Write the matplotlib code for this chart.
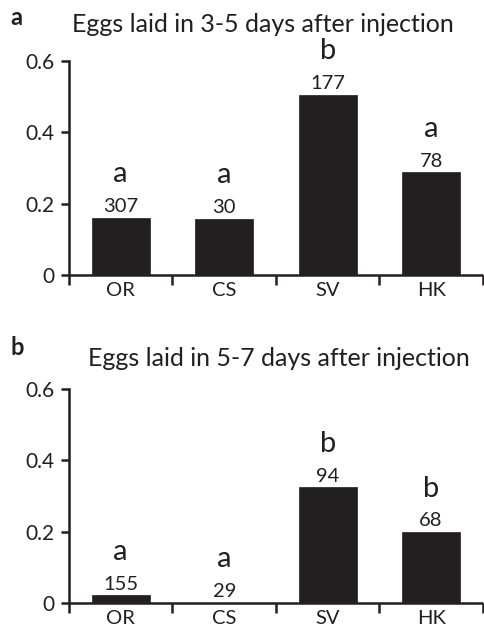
import matplotlib.pyplot as plt
import numpy as np

# ---------------- data ----------------
strains = ["OR", "CS", "SV", "HK"]

# panel a: eggs laid 3-5 days after injection
values_a = [0.161, 0.158, 0.505, 0.288]
counts_a = ["307", "30", "177", "78"]
letters_a = ["a", "a", "b", "a"]

# panel b: eggs laid 5-7 days after injection
values_b = [0.021, 0.0, 0.324, 0.199]
counts_b = ["155", "29", "94", "68"]
letters_b = ["a", "a", "b", "b"]

titles = ["Eggs laid in 3-5 days after injection",
          "Eggs laid in 5-7 days after injection"]
panel_tags = ["a", "b"]

# ---------------- style ----------------
ink = "#231f20"
plt.rcParams["font.family"] = ["Lato", "DejaVu Sans"]
plt.rcParams["text.color"] = ink

fig = plt.figure(figsize=(4.84, 6.37), dpi=100)

axes_rects = [[0.1426, 0.5683, 0.855, 0.336],
              [0.1426, 0.0538, 0.855, 0.335]]
title_y = [0.962, 0.437]
tag_y = [0.973, 0.455]

panels = [(values_a, counts_a, letters_a), (values_b, counts_b, letters_b)]

for i, (vals, counts, letters) in enumerate(panels):
    ax = fig.add_axes(axes_rects[i])
    x = np.arange(len(strains))
    ax.bar(x, vals, width=0.56, color=ink, edgecolor=ink, linewidth=0.5)

    ax.set_xlim(-0.5, 3.5)
    ax.set_ylim(0, 0.6)
    ax.set_yticks([0, 0.2, 0.4, 0.6])
    ax.set_yticklabels(["0", "0.2", "0.4", "0.6"], fontsize=15)

    # ticks at category boundaries, labels at centres
    ax.set_xticks(np.arange(-0.5, 4.0, 1.0))
    ax.set_xticklabels([])
    ax.set_xticks(x, minor=True)
    ax.set_xticklabels(strains, minor=True, fontsize=14.5)
    ax.tick_params(axis="x", which="major", direction="out", length=7,
                   width=1.8, color=ink)
    ax.tick_params(axis="x", which="minor", length=0, pad=5, colors=ink)
    ax.tick_params(axis="y", direction="out", length=5.5, width=1.8,
                   color=ink, pad=5, labelcolor=ink)

    for s in ["top", "right"]:
        ax.spines[s].set_visible(False)
    for s in ["left", "bottom"]:
        ax.spines[s].set_linewidth(1.8)
        ax.spines[s].set_color(ink)
    ax.spines["bottom"].set_capstyle("butt")

    # counts and significance letters above bars
    for xi, v, c, l in zip(x, vals, counts, letters):
        ax.annotate(c, (xi, v), xytext=(0, 4), textcoords="offset points",
                    ha="center", va="baseline", fontsize=14.5, color=ink)
        ax.annotate(l, (xi, v), xytext=(0, 25.5), textcoords="offset points",
                    ha="center", va="baseline", fontsize=21, color=ink)

    fig.text(0.543 + 0.034 * i, title_y[i], titles[i], ha="center",
             va="center", fontsize=18, color=ink)
    fig.text(0.022, tag_y[i], panel_tags[i], ha="left", va="center",
             fontsize=17, fontweight="bold", color=ink)

fig.savefig("out.png", dpi=100)
